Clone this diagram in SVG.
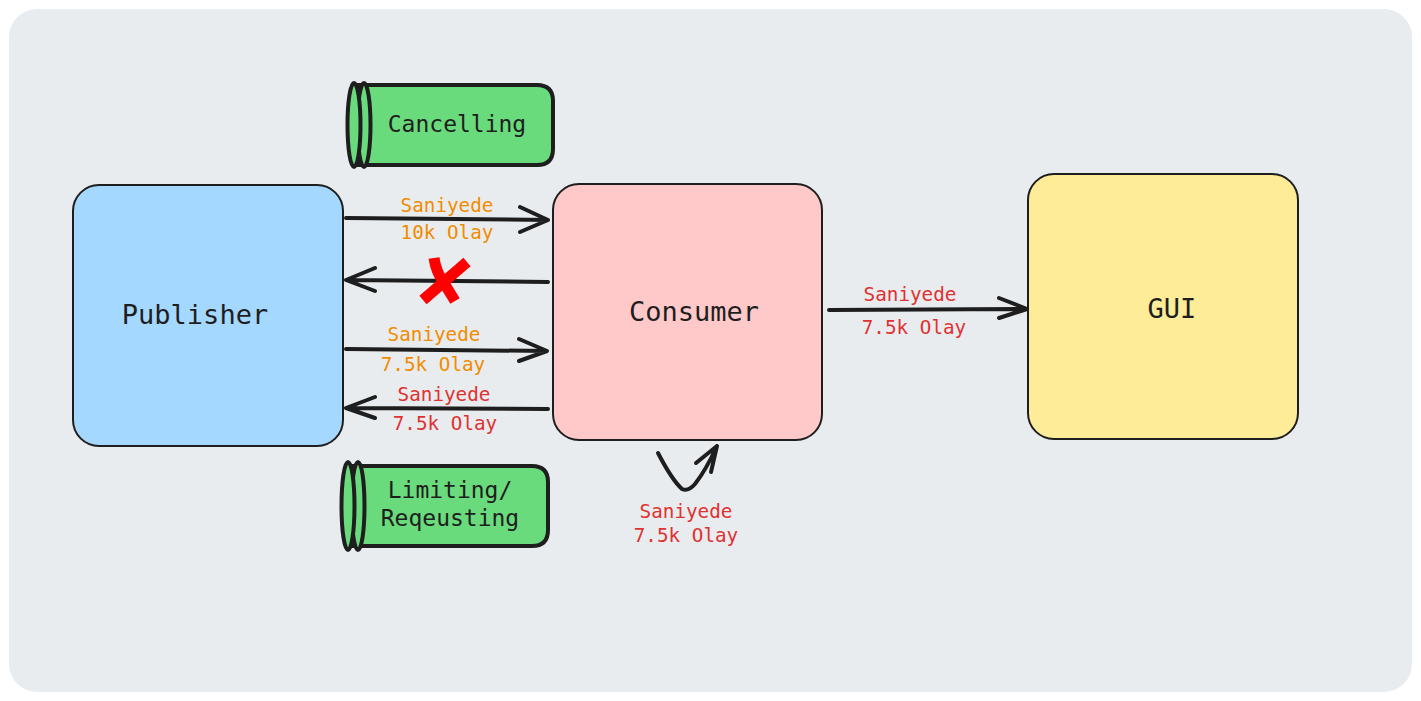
<svg xmlns="http://www.w3.org/2000/svg" width="1421" height="701" viewBox="0 0 1421 701">
<defs>
<style>
.box{stroke:#1e1e1e;stroke-width:2}
.pill{fill:#69db7c;stroke:#1e1e1e;stroke-width:4}
.ln{fill:none;stroke:#1e1e1e;stroke-width:4;stroke-linecap:round;stroke-linejoin:round}
.x{fill:none;stroke:#ff0000;stroke-width:11;stroke-linecap:butt}
text{font-family:"DejaVu Sans Mono","Liberation Mono",monospace;text-anchor:middle;dominant-baseline:central}
.big{font-size:27px;fill:#1e1e1e}
.mid{font-size:23px;fill:#1e1e1e}
.or{font-size:19.3px;fill:#f08c00}
.rd{font-size:19.3px;fill:#e03131}
</style>
</defs>
<rect x="9" y="9" width="1403" height="683" rx="28" fill="#e9ecef"/>
<g id="publisher"><rect class="box" x="73" y="185" width="270" height="261" rx="26" fill="#a5d8ff"/><text class="big" x="195" y="314">Publisher</text></g>
<g id="consumer"><rect class="box" x="553" y="184" width="269" height="256" rx="26" fill="#ffc9c9"/><text class="big" x="694" y="311">Consumer</text></g>
<g id="gui"><rect class="box" x="1028" y="174" width="270" height="265" rx="26" fill="#ffec99"/><text class="big" x="1172" y="308">GUI</text></g>
<g id="cancelling"><path class="pill" d="M358 85 H537 Q553 85 553 101 V149 Q553 165 537 165 H358 Z"/><ellipse class="pill" cx="364" cy="125" rx="6.5" ry="42"/><ellipse class="pill" cx="354" cy="125" rx="6.5" ry="42"/><text class="mid" x="457" y="124">Cancelling</text></g>
<g id="limiting"><path class="pill" d="M352 466 H532 Q548 466 548 482 V530 Q548 546 532 546 H352 Z"/><ellipse class="pill" cx="358" cy="506" rx="6.5" ry="44"/><ellipse class="pill" cx="348" cy="506" rx="6.5" ry="44"/><text class="mid" x="450" y="490">Limiting/</text><text class="mid" x="450" y="518">Reqeusting</text></g>
<g id="connectors">
<path class="ln" d="M346 218 L548 220 M520 207 L548 220 L520 232"/>
<path class="ln" d="M548 282 L346 280 M375 268 L346 280 L375 291"/>
<path class="ln" d="M346 349 L547 351 M519 339 L547 351 L519 361"/>
<path class="ln" d="M548 409 L346 408 M375 397 L346 408 L375 418"/>
<path class="ln" d="M829 310 L1027 309 M999 298 L1027 309 L999 318"/>
<path class="ln" d="M658 453 Q672 480 682 489 Q688 492 695 484 Q706 470 717 446 M696 463 L717 446 L711 472"/>
<path class="x" d="M467 262 L423 300 M434 258 Q436 272 444 283 L455 301"/>
</g>
<g id="labels">
<text class="or" x="447" y="205">Saniyede</text><text class="or" x="447" y="232">10k Olay</text>
<text class="or" x="434" y="334">Saniyede</text><text class="or" x="433" y="364">7.5k Olay</text>
<text class="rd" x="444" y="394">Saniyede</text><text class="rd" x="445" y="423">7.5k Olay</text>
<text class="rd" x="910" y="294">Saniyede</text><text class="rd" x="914" y="327">7.5k Olay</text>
<text class="rd" x="686" y="511">Saniyede</text><text class="rd" x="686" y="535">7.5k Olay</text>
</g>
</svg>
